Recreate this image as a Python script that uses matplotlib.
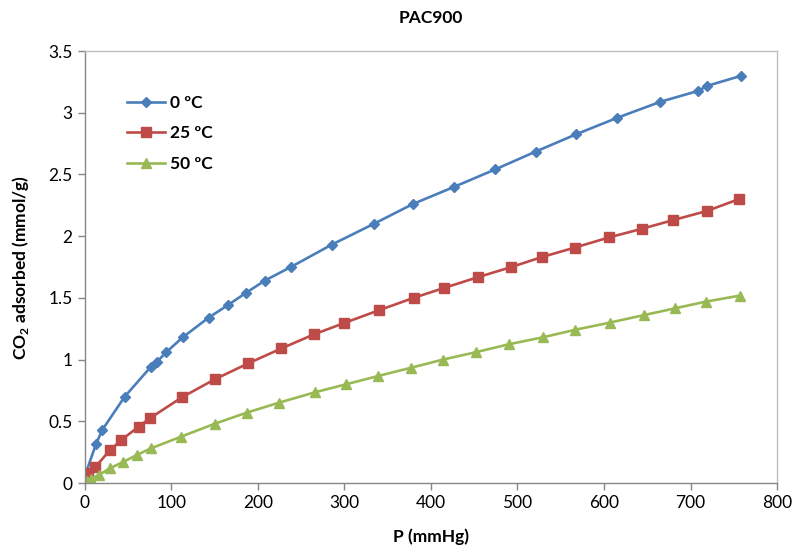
import matplotlib
matplotlib.use("Agg")
import matplotlib.pyplot as plt
from matplotlib.ticker import MultipleLocator, FormatStrFormatter

plt.rcParams['font.family'] = ['Lato', 'DejaVu Sans']
plt.rcParams['mathtext.fontset'] = 'custom'
plt.rcParams['mathtext.rm'] = 'Lato'
plt.rcParams['mathtext.bf'] = 'Lato:bold'

# Isotherm data: pressure (mmHg) and CO2 uptake (mmol/g)
p_0c = [1, 13, 20, 46, 76, 83, 94, 113, 143, 165, 186, 208, 238, 285, 334,
        379, 427, 474, 521, 568, 615, 665, 709, 719, 758]
q_0c = [0.08, 0.32, 0.43, 0.70, 0.94, 0.98, 1.06, 1.18, 1.34, 1.44, 1.54,
        1.64, 1.75, 1.93, 2.10, 2.26, 2.40, 2.54, 2.685, 2.826, 2.958, 3.088,
        3.177, 3.217, 3.298]

p_25c = [1, 4, 12, 29, 42, 62, 75, 112, 150, 189, 227, 265, 300, 340, 380,
         415, 454, 493, 528, 566, 606, 644, 680, 719, 756]
q_25c = [0.03, 0.08, 0.13, 0.267, 0.348, 0.456, 0.524, 0.694, 0.84, 0.97,
         1.09, 1.205, 1.297, 1.40, 1.50, 1.58, 1.667, 1.75, 1.83, 1.907,
         1.99, 2.06, 2.13, 2.204, 2.30]

p_50c = [2, 7, 16, 29, 44, 60, 76, 111, 150, 187, 224, 266, 302, 339, 377,
         414, 452, 490, 529, 566, 607, 646, 682, 718, 757]
q_50c = [0.015, 0.035, 0.065, 0.12, 0.17, 0.227, 0.28, 0.375, 0.48, 0.57,
         0.65, 0.735, 0.80, 0.867, 0.934, 1.00, 1.06, 1.124, 1.18, 1.24,
         1.30, 1.36, 1.415, 1.47, 1.518]

labels = ['0 ºC', '25 ºC', '50 ºC']

fig = plt.figure(figsize=(7.94, 5.52), dpi=100)
ax = fig.add_axes([0.107, 0.125, 0.8716, 0.7826])

ax.plot(p_0c, q_0c, color='#4A7EBB', lw=1.9, marker='D', ms=5.5,
        label=labels[0])
ax.plot(p_25c, q_25c, color='#BE4B48', lw=1.9, marker='s', ms=6.5,
        label=labels[1])
ax.plot(p_50c, q_50c, color='#98B954', lw=1.9, marker='^', ms=7,
        label=labels[2])

ax.set_xlim(0, 800)
ax.set_ylim(0, 3.5)
ax.xaxis.set_major_locator(MultipleLocator(100))
ax.yaxis.set_major_locator(MultipleLocator(0.5))
ax.yaxis.set_major_formatter(FormatStrFormatter('%g'))

for side in ['left', 'bottom']:
    ax.spines[side].set_color('#868686')
    ax.spines[side].set_linewidth(1.0)
for side in ['top', 'right']:
    ax.spines[side].set_color('#BFBFBF')
    ax.spines[side].set_linewidth(1.0)

ax.tick_params(axis='both', direction='out', length=5, width=1.0,
               color='#868686', labelsize=12.5, labelcolor='black', pad=4)

ax.set_title('PAC900', fontsize=12.5, fontweight='bold', pad=20)
ax.set_xlabel('P (mmHg)', fontsize=12.5, fontweight='bold', labelpad=12)
ax.set_ylabel(r'CO$_\mathbf{2}$ adsorbed (mmol/g)', fontsize=12.5,
              fontweight='bold', labelpad=12)

leg = ax.legend(loc='upper left', bbox_to_anchor=(0.05, 0.915), frameon=False,
                fontsize=12.5, handlelength=2.2, handletextpad=0.3,
                labelspacing=0.85, borderaxespad=0)
for t in leg.get_texts():
    t.set_fontweight('bold')

fig.savefig('out.png', dpi=100)
